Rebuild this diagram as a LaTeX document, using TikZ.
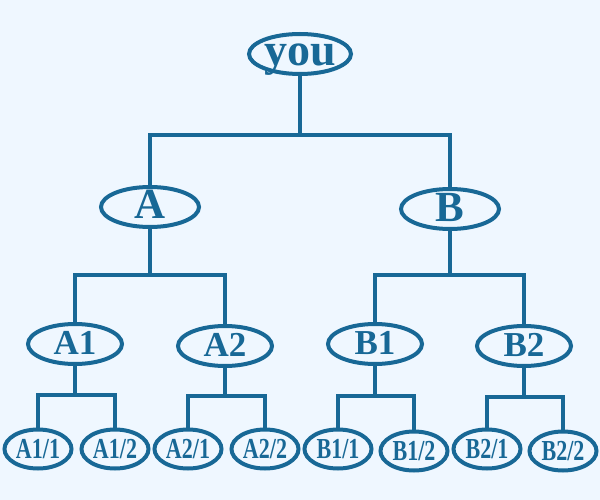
\documentclass[tikz,border=0pt]{standalone}
\usepackage{fontspec}
\setmainfont{Liberation Serif}
\usetikzlibrary{shapes.geometric}
\definecolor{ink}{RGB}{24,104,150}
\definecolor{bg}{RGB}{239,247,255}
\newcommand{\lbl}[2]{\smash{\makebox[0pt]{\raisebox{#1}{#2}}}}
\tikzset{
  oval/.style={ellipse, draw=ink, line width=4pt, inner sep=0pt, text=ink, font=\bfseries},
  lvlzero/.style={oval, minimum width=102pt, minimum height=40pt},
  lvlone/.style={oval, minimum width=98pt, minimum height=40pt},
  lvltwo/.style={oval, minimum width=94pt, minimum height=40pt},
  lvlthree/.style={oval, minimum width=67pt, minimum height=39pt},
  link/.style={draw=ink, line width=3.2pt}
}
\newcommand{\leaftext}[1]{\lbl{-9pt}{\fontsize{29}{29}\selectfont\scalebox{0.76}[1]{#1}}}
\begin{document}
\begin{tikzpicture}[x=1pt,y=-1pt]
\fill[bg] (0,0) rectangle (600,500);
\useasboundingbox (0,0) rectangle (600,500);
\node[lvlzero] (you) at (300,54) {\lbl{-12pt}{\fontsize{46}{46}\selectfont you}};
\node[lvlone] (A) at (150,207) {\lbl{-12pt}{\fontsize{43}{43}\selectfont A}};
\node[lvlone] (B) at (450,209) {\lbl{-12pt}{\fontsize{43}{43}\selectfont B}};
\node[lvltwo] (A1) at (75,344) {\lbl{-10pt}{\fontsize{35}{35}\selectfont A1}};
\node[lvltwo] (A2) at (225,346) {\lbl{-10pt}{\fontsize{35}{35}\selectfont A2}};
\node[lvltwo] (B1) at (375,344) {\lbl{-10pt}{\fontsize{35}{35}\selectfont B1}};
\node[lvltwo] (B2) at (524,346) {\lbl{-10pt}{\fontsize{35}{35}\selectfont B2}};
\node[lvlthree] (A11) at (38,449) {\leaftext{A1/1}};
\node[lvlthree] (A12) at (115,449) {\leaftext{A1/2}};
\node[lvlthree] (A21) at (188,449) {\leaftext{A2/1}};
\node[lvlthree] (A22) at (265,449) {\leaftext{A2/2}};
\node[lvlthree] (B11) at (338,449) {\leaftext{B1/1}};
\node[lvlthree] (B12) at (414,451) {\leaftext{B1/2}};
\node[lvlthree] (B21) at (487,449) {\leaftext{B2/1}};
\node[lvlthree] (B22) at (563,451) {\leaftext{B2/2}};
\path[link] (you.south) -- ++(0,59) -| (A.north);
\path[link] (you.south) -- ++(0,59) -| (B.north);
\path[link] (A.south) -- ++(0,46) -| (A1.north);
\path[link] (A.south) -- ++(0,46) -| (A2.north);
\path[link] (B.south) -- ++(0,44) -| (B1.north);
\path[link] (B.south) -- ++(0,44) -| (B2.north);
\path[link] (A1.south) -- ++(0,29) -| (A11.north);
\path[link] (A1.south) -- ++(0,29) -| (A12.north);
\path[link] (A2.south) -- ++(0,28) -| (A21.north);
\path[link] (A2.south) -- ++(0,28) -| (A22.north);
\path[link] (B1.south) -- ++(0,30) -| (B11.north);
\path[link] (B1.south) -- ++(0,30) -| (B12.north);
\path[link] (B2.south) -- ++(0,29) -| (B21.north);
\path[link] (B2.south) -- ++(0,29) -| (B22.north);
\end{tikzpicture}
\end{document}
